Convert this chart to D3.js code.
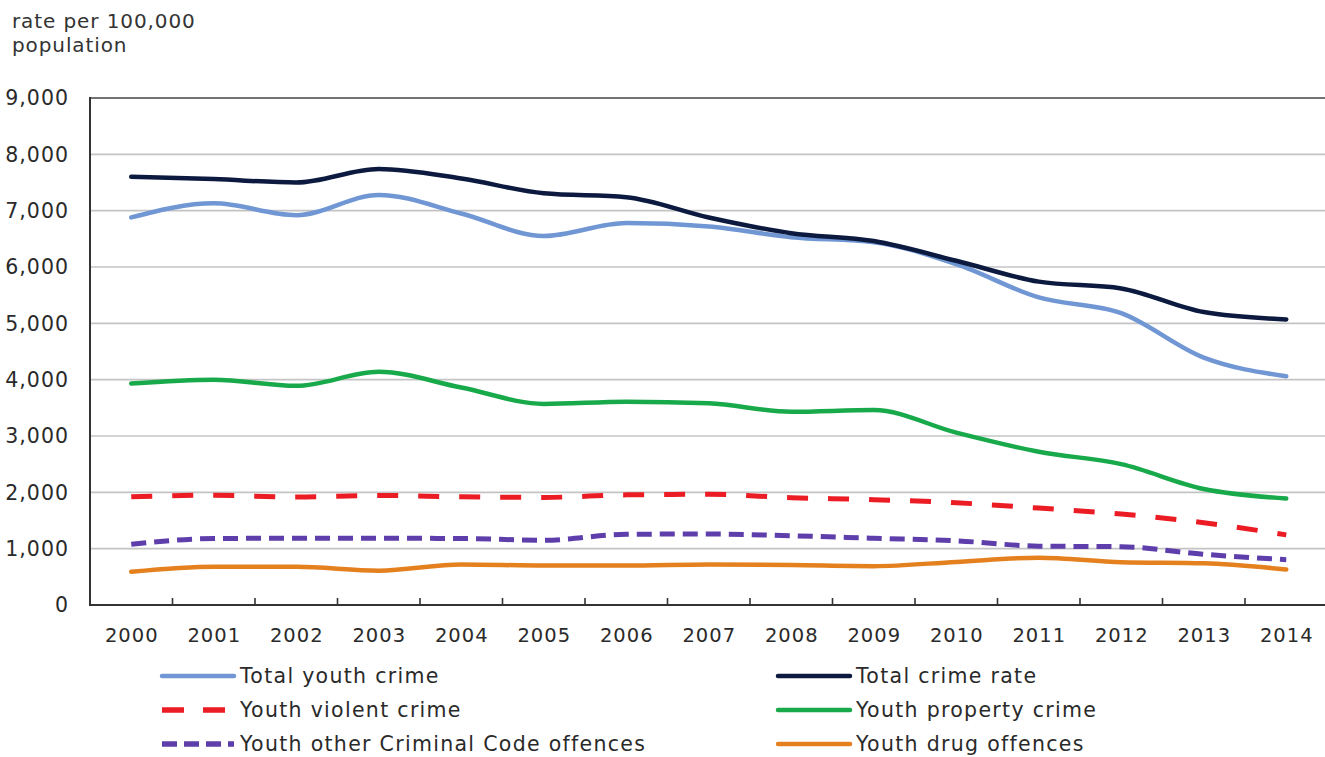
<!DOCTYPE html>
<html>
<head>
<meta charset="utf-8">
<script src="https://cdn.jsdelivr.net/npm/d3@7"></script>
<style>
  html, body { margin: 0; padding: 0; background: #fff; }
  svg { display: block; }
  text { font-family: "DejaVu Sans", Verdana, sans-serif; fill: #2a2a2a; }
</style>
</head>
<body>
<svg id="chart" width="1325" height="757"></svg>
<script>
const years = ["2000","2001","2002","2003","2004","2005","2006","2007","2008","2009","2010","2011","2012","2013","2014"];
const yTicks = [0,1000,2000,3000,4000,5000,6000,7000,8000,9000];

const totalYouthCrime   = [6880,7130,6920,7280,6950,6550,6780,6720,6530,6440,6050,5460,5180,4390,4060];
const totalCrimeRate    = [7600,7560,7500,7740,7570,7310,7240,6880,6600,6460,6110,5740,5620,5200,5070];
const youthViolent      = [1920,1950,1915,1945,1920,1910,1955,1965,1905,1870,1815,1720,1615,1460,1245];
const youthProperty     = [3930,4000,3890,4140,3860,3570,3610,3580,3430,3460,3060,2720,2500,2060,1890];
const youthOtherCC      = [1080,1180,1185,1185,1180,1150,1255,1260,1230,1185,1140,1045,1035,900,805];
const youthDrug         = [590,680,680,610,720,700,700,720,710,690,765,840,760,740,630];

const seriesNames = ["Total youth crime","Total crime rate","Youth violent crime","Youth property crime","Youth other Criminal Code offences","Youth drug offences"];

const series = [
  {name: seriesNames[0], values: totalYouthCrime, color: "#7097d4", width: 4.5, dash: null},
  {name: seriesNames[1], values: totalCrimeRate,  color: "#0c1a3f", width: 4.5, dash: null},
  {name: seriesNames[2], values: youthViolent,    color: "#ec1c24", width: 5,   dash: "21,20"},
  {name: seriesNames[3], values: youthProperty,   color: "#17a94a", width: 4.5, dash: null},
  {name: seriesNames[4], values: youthOtherCC,    color: "#5e3eab", width: 5,   dash: "15,8"},
  {name: seriesNames[5], values: youthDrug,       color: "#e5801f", width: 4.5, dash: null}
];

const svg = d3.select("#chart");
const mLeft = 90, mRight = 1327.5, mTop = 98, mBottom = 605;

const x = d3.scaleBand().domain(years).range([mLeft, mRight]).paddingInner(0).paddingOuter(0);
const xc = d => x(d) + x.bandwidth() / 2;
const y = d3.scaleLinear().domain([0, 9000]).range([mBottom, mTop]);

// gridlines
svg.append("g").selectAll("line").data(yTicks.filter(t => t > 0)).join("line")
  .attr("x1", mLeft).attr("x2", 1325)
  .attr("y1", d => y(d)).attr("y2", d => y(d))
  .attr("stroke", d => d === 9000 ? "#444" : "#c4c4c4")
  .attr("stroke-width", 1.6);

// y axis labels
svg.append("g").selectAll("text").data(yTicks).join("text")
  .attr("x", 69).attr("y", d => y(d)).attr("dy", "0.36em")
  .attr("text-anchor", "end").attr("font-size", 20.5)
  .attr("letter-spacing", 1)
  .text(d => d3.format(",")(d));

// axes lines
svg.append("line").attr("x1", mLeft).attr("x2", mLeft).attr("y1", mTop - 1).attr("y2", mBottom + 1)
  .attr("stroke", "#333").attr("stroke-width", 2);
svg.append("line").attr("x1", mLeft - 1).attr("x2", 1325).attr("y1", mBottom).attr("y2", mBottom)
  .attr("stroke", "#333").attr("stroke-width", 2);

// x ticks at band boundaries (inside)
svg.append("g").selectAll("line").data(years.slice(1)).join("line")
  .attr("x1", d => x(d)).attr("x2", d => x(d))
  .attr("y1", mBottom).attr("y2", mBottom - 7)
  .attr("stroke", "#333").attr("stroke-width", 1.6);

// x labels
svg.append("g").selectAll("text").data(years).join("text")
  .attr("x", d => xc(d) + 0.5).attr("y", 642)
  .attr("text-anchor", "middle").attr("font-size", 19.5)
  .attr("letter-spacing", 1)
  .text(d => d);

// y title
svg.append("text").attr("x", 12).attr("y", 28).attr("font-size", 20).attr("letter-spacing", 0.9).style("fill", "#333").text("rate per 100,000");
svg.append("text").attr("x", 12).attr("y", 52).attr("font-size", 20).attr("letter-spacing", 0.9).style("fill", "#333").text("population");

// lines
const line = d3.line().x((d, i) => xc(years[i])).y(d => y(d)).curve(d3.curveMonotoneX);
const drawOrder = [5, 4, 2, 3, 0, 1];
drawOrder.forEach(k => {
  const s = series[k];
  svg.append("path").datum(s.values)
    .attr("d", line)
    .attr("fill", "none")
    .attr("stroke", s.color)
    .attr("stroke-width", s.width)
    .attr("stroke-linejoin", "round")
    .attr("stroke-linecap", s.dash ? "butt" : "round")
    .attr("stroke-dasharray", s.dash);
});

// legend
const legendPos = [
  {x: 162, y: 676}, {x: 778, y: 676},
  {x: 162, y: 710}, {x: 778, y: 710},
  {x: 162, y: 744}, {x: 778, y: 744}
];
series.forEach((s, i) => {
  const p = legendPos[i];
  const g = svg.append("g");
  g.append("line").attr("x1", p.x).attr("x2", p.x + 72).attr("y1", p.y).attr("y2", p.y)
    .attr("stroke", s.color).attr("stroke-width", s.dash ? 5.5 : 4.5)
    .attr("stroke-linecap", s.dash ? "butt" : "round")
    .attr("stroke-dasharray", s.dash ? (i === 2 ? "22,19" : "15,7") : null);
  g.append("text").attr("x", p.x + 78).attr("y", p.y).attr("dy", "0.36em")
    .attr("font-size", 20.5).attr("letter-spacing", 1.3).text(s.name);
});
</script>
</body>
</html>
